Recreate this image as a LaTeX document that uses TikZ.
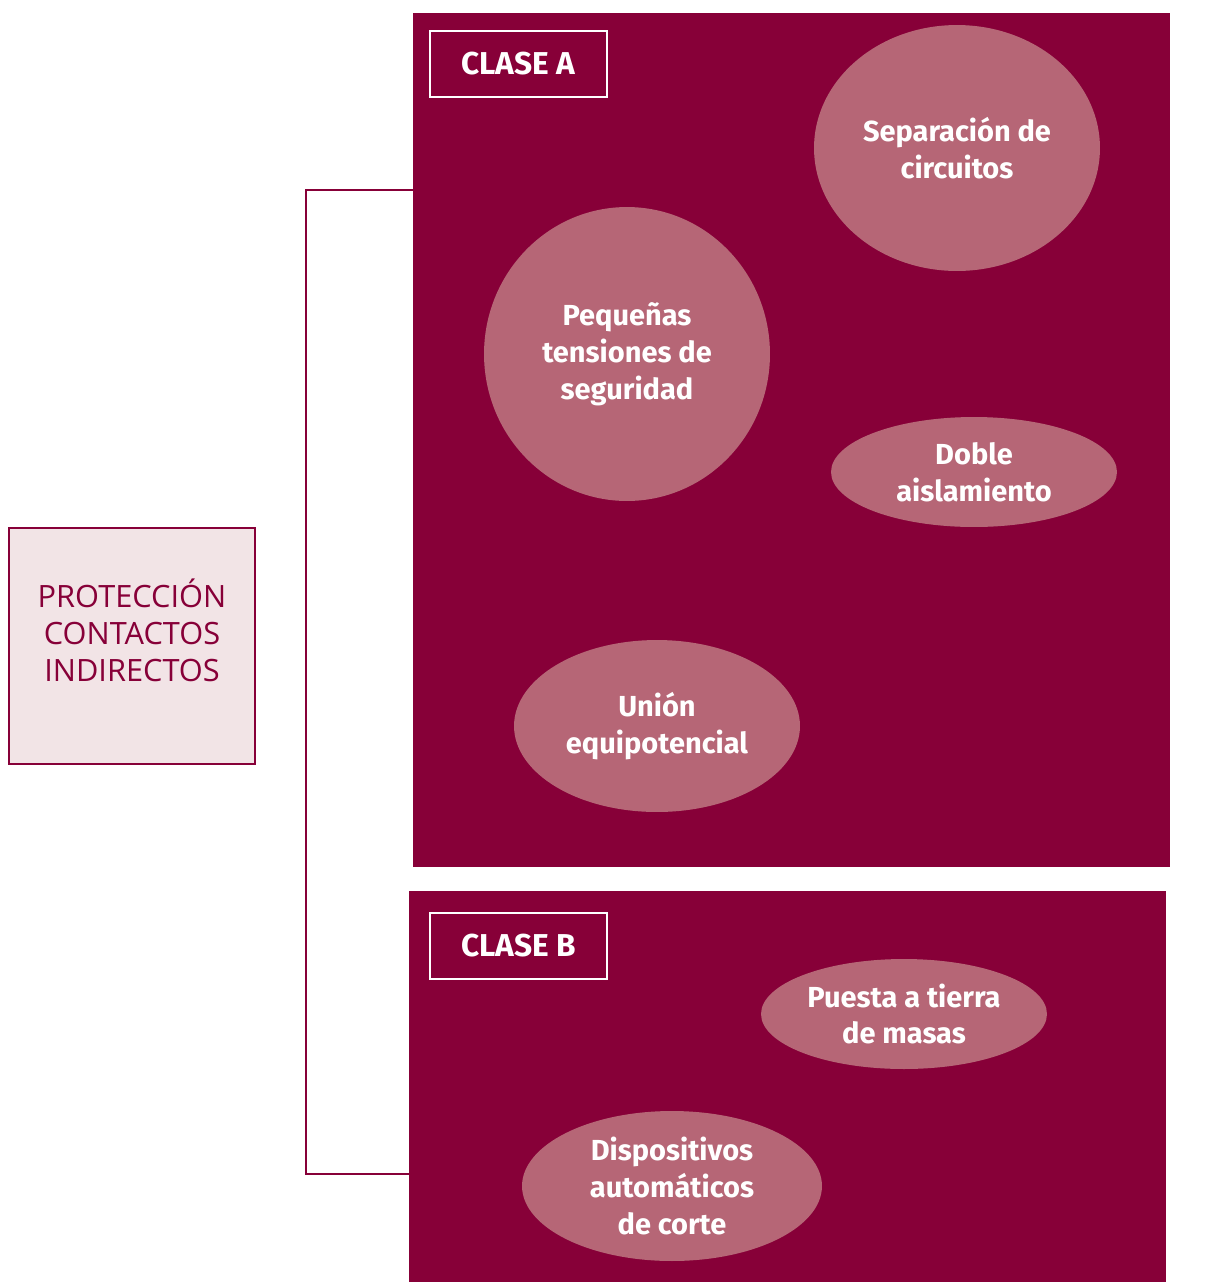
\documentclass[tikz,border=0pt]{standalone}
\usepackage{fontspec}
\usepackage{tikz}
\usetikzlibrary{shapes.geometric}
\setmainfont{Open Sans}
\newfontfamily\boldlabel{Fira Sans}

\definecolor{vino}{HTML}{870038}
\definecolor{rosa}{HTML}{B66676}
\definecolor{rosaclaro}{HTML}{F2E4E6}

\tikzset{
	panel/.style={rectangle, fill=vino, draw=none, inner sep=0pt},
	clase/.style={rectangle, draw=white, line width=1.4pt, minimum width=3.54cm, minimum height=1.32cm,
		text=white, font=\boldlabel\bfseries\fontsize{18}{21}\selectfont},
	medida/.style={ellipse, fill=rosa, inner sep=0pt, align=center, text=white,
		font=\boldlabel\bfseries\fontsize{16.5}{21}\selectfont},
}

\begin{document}
\begin{tikzpicture}[x=0.02cm,y=-0.02cm]
				\useasboundingbox (0,0) rectangle (1207,1282);
				
				% cuadro de la izquierda
				\node[rectangle, fill=rosaclaro, draw=vino, line width=0.8pt, minimum width=4.92cm, minimum height=4.72cm,
					align=center, text=vino, text depth=0.62cm, font=\fontsize{17.5}{21}\selectfont] (proteccion) at (132,646)
					{PROTECCIÓN\\CONTACTOS\\INDIRECTOS};
				
				% paneles
				\node[panel, minimum width=15.14cm, minimum height=17.08cm] (claseA) at (791.5,440) {};
				\node[panel, minimum width=15.14cm, minimum height=7.82cm] (claseB) at (787.5,1086.5) {};
				
				\node[clase] (tituloA) at (518.5,64) {CLASE A};
				\node[clase] (tituloB) at (518.5,946) {CLASE B};
				
				\node[medida, minimum width=5.72cm, minimum height=4.92cm] (separacion) at (957,148) {Separación de\\circuitos};
				\node[medida, minimum width=5.72cm, minimum height=5.88cm] (tensiones) at (627,354) {Pequeñas\\tensiones de\\seguridad};
				\node[medida, minimum width=5.72cm, minimum height=2.2cm] (doble) at (974,472) {Doble\\aislamiento};
				\node[medida, minimum width=5.72cm, minimum height=3.44cm] (union) at (657,726) {Unión\\equipotencial};
				\node[medida, minimum width=5.72cm, minimum height=2.2cm] (tierra) at (904,1014) {Puesta a tierra\\de masas};
				\node[medida, minimum width=6cm, minimum height=3cm] (dispositivos) at (672,1186) {Dispositivos\\automáticos\\de corte};
				
				% llave
				\coordinate (arriba) at (306,190);
				\coordinate (abajo) at (306,1174);
				\draw[vino, line width=1.1pt] (arriba -| claseA.west) -- (arriba) -- (abajo) -- (abajo -| claseB.west);
			\end{tikzpicture}
\end{document}
